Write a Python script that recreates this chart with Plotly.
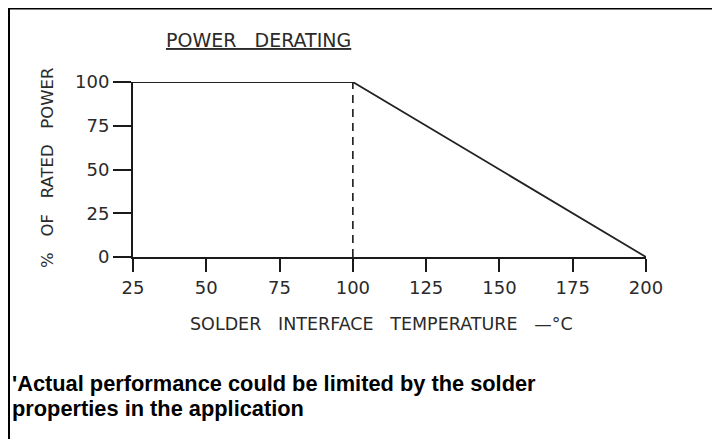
import plotly.graph_objects as go

# Data
temperature = [25, 100, 200]
rated_power = [100, 100, 0]
knee_x = [100, 100]
knee_y = [0, 100]
x_ticks = [25, 50, 75, 100, 125, 150, 175, 200]
y_ticks = [0, 25, 50, 75, 100]

# page has an 8px body margin, so figure pixel = page pixel - 8
OFF = 8
W, H = 712, 431
L, T = 133 - OFF, 82 - OFF
R = W - (646 - OFF)
B = H - (257 - OFF)
pw, ph = W - L - R, H - T - B

def px(x):
    return (x - OFF - L) / pw

def py(y):
    return (H - B - (y - OFF)) / ph

ink = "#1a1a1a"
fig = go.Figure()
fig.add_trace(go.Scatter(x=knee_x, y=knee_y, mode="lines",
                         line=dict(color=ink, width=1.6, dash="8px,6px"),
                         cliponaxis=False, hoverinfo="skip"))
fig.add_trace(go.Scatter(x=temperature, y=rated_power, mode="lines",
                         line=dict(color="#222", width=1.8),
                         cliponaxis=False, hoverinfo="skip"))

axis_font = dict(family="DejaVu Sans, sans-serif", size=18, color="#2a2a2a")
fig.update_xaxes(range=[25, 200], tickvals=x_ticks, ticks="outside", ticklen=13,
                 tickwidth=2, tickcolor=ink, showline=True, linecolor=ink, linewidth=2,
                 showgrid=False, zeroline=False, tickfont=axis_font)
fig.update_yaxes(range=[0, 100], tickvals=y_ticks, ticks="outside", ticklen=18,
                 tickwidth=2, tickcolor=ink, showline=True, linecolor=ink, linewidth=2,
                 showgrid=False, zeroline=False, tickfont=axis_font)

lab_font = dict(family="DejaVu Sans, sans-serif", size=16.5, color="#2a2a2a")
xlab_font = dict(family="DejaVu Sans, sans-serif", size=17.5, color="#2a2a2a")
foot_font = dict(family="Liberation Sans, Arial, sans-serif", size=21.8, color="#000000")
sp3 = "&nbsp;" * 3
annots = [
    dict(text="<u>POWER" + sp3 + "DERATING</u>", x=px(258), y=py(40),
         font=dict(family="DejaVu Sans, sans-serif", size=19, color="#2a2a2a")),
    dict(text="SOLDER" + sp3 + "INTERFACE" + sp3 + "TEMPERATURE" + sp3 + "—°C", x=px(381), y=py(324),
         font=xlab_font),
    dict(text="%" + sp3 + "OF" + sp3 + "RATED" + sp3 + "POWER", x=px(47), y=py(168), textangle=-90,
         font=lab_font),
    dict(text="<b>'Actual performance could be limited by the solder</b>",
         x=px(10), y=py(383), xanchor="left", font=foot_font),
    dict(text="<b>properties in the application</b>",
         x=px(10), y=py(408), xanchor="left", font=foot_font),
]
for a in annots:
    a.setdefault("xanchor", "center")
    fig.add_annotation(xref="paper", yref="paper", showarrow=False, yanchor="middle", **a)

fig.add_shape(type="line", xref="paper", yref="paper", x0=px(7), x1=px(730), y0=py(8), y1=py(8),
              line=dict(color="#000", width=3))
fig.add_shape(type="line", xref="paper", yref="paper", x0=px(8.5), x1=px(8.5), y0=py(7), y1=py(450),
              line=dict(color="#000", width=3))

fig.update_layout(width=W, height=H, margin=dict(l=L, r=R, t=T, b=B),
                  paper_bgcolor="white", plot_bgcolor="white", showlegend=False)
fig.write_html("out.html")
